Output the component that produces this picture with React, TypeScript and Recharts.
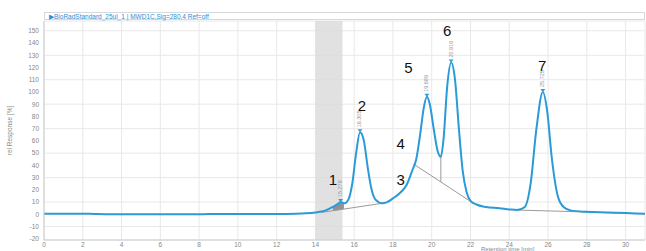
import { ComposedChart, Line, Area, XAxis, YAxis, CartesianGrid, ReferenceArea, ReferenceDot } from 'recharts';

// chromatogram trace (retention time, response)
const times = [0, 2, 2.6, 4, 8, 9, 12, 13, 13.5, 14, 14.5, 14.9, 15.2, 15.3, 15.5, 15.7, 15.9, 16.1, 16.3, 16.5, 16.7, 16.9, 17.1, 17.45, 17.7, 18.0, 18.4, 18.7, 19.0, 19.2, 19.4, 19.6, 19.75, 19.9, 20.1, 20.3, 20.47, 20.6, 20.8, 21.0, 21.2, 21.4, 21.6, 21.8, 22.0, 22.3, 22.8, 23.5, 24.0, 24.4, 24.8, 25.1, 25.4, 25.73, 25.95, 26.2, 26.5, 26.8, 27.2, 28, 29, 30, 31];
const response = [0.5, 0.5, 0.3, 0, 0, 0.3, 0.3, 0.5, 0.8, 1.5, 3, 6, 9, 10, 9, 12, 25, 50, 67, 60, 38, 20, 12, 9, 10, 13, 18, 24, 36, 45, 65, 88, 96, 90, 70, 52, 47, 60, 105, 124, 110, 70, 35, 18, 11, 8, 6, 5, 4, 3.5, 6, 25, 70, 100, 85, 45, 15, 6, 3, 2, 1.5, 1, 0.5];

// integration baselines and drop lines
const baselines = [
  [[14.3, 1.5], [17.45, 9]],
  [[19.07, 41], [22.0, 10.5]],
  [[24.4, 3.5], [31, 0.5]],
  [[15.45, 9.5], [15.45, 4.5]],
  [[20.47, 47], [20.47, 26.5]],
];

// integrated area of peak 1 (time, baseline, curve)
const fillTimes = [14.9, 15.2, 15.3, 15.45];
const fillLow = [2.9, 3.6, 3.9, 4.3];
const fillHigh = [6, 9, 10, 9.3];

// peak apex: time, height, retention label
const peakTimes = [15.3, 16.3, 19.75, 21.0, 25.73];
const peakHeights = [10, 67, 96, 124, 100];
const peakLabels = ['15.278', '16.305', '19.689', '20.916', '25.725'];

// big peak numbers
const numberLabels = ['1', '2', '3', '4', '5', '6', '7'];
const numberX = [14.9, 16.4, 18.4, 18.4, 18.8, 20.8, 25.7];
const numberY = [27, 88, 27, 57, 119, 149, 120];

const xTicks = [0, 2, 4, 6, 8, 10, 12, 14, 16, 18, 20, 22, 24, 26, 28, 30];
const yTicks = [-20, -10, 0, 10, 20, 30, 40, 50, 60, 70, 80, 90, 100, 110, 120, 130, 140, 150];

const trace = times.map((t, i) => ({ t, v: response[i] }));
const peakFill = fillTimes.map((t, i) => ({ t, r: [fillLow[i], fillHigh[i]] }));

const font = 'Liberation Sans, Arial, sans-serif';

const PeakMark = (props: any) => {
  const { cx, cy, label } = props;
  return (
    <g>
      <path d={`M${cx - 2.5},${cy - 3} L${cx + 2.5},${cy - 3} L${cx},${cy}`} fill="#2a9ad8" />
      <text
        x={cx}
        y={cy - 5}
        transform={`rotate(-90 ${cx} ${cy - 5})`}
        fontSize={5.5}
        fill="#999"
        fontFamily={font}
        dominantBaseline="middle"
      >
        {label}
      </text>
    </g>
  );
};

const NumberMark = (props: any) => {
  const { cx, cy, label } = props;
  return (
    <text x={cx} y={cy} fontSize={15} fill="#111" fontFamily={font} textAnchor="middle" dominantBaseline="middle">
      {label}
    </text>
  );
};

export default function App() {
  return (
    <div style={{ position: 'absolute', left: 0, top: 0, width: 646, height: 251, background: '#fff', overflow: 'hidden' }}>
      <div
        style={{
          position: 'absolute',
          left: 44,
          top: 12,
          width: 601,
          height: 8,
          border: '1px solid #d8d8d8',
          fontFamily: font,
          fontSize: 6.5,
          lineHeight: '8px',
          color: '#2a8fd6',
          paddingLeft: 4,
          boxSizing: 'border-box',
          whiteSpace: 'nowrap',
        }}
      >
        ▶BioRadStandard_25ul_1 | MWD1C,Sig=280,4 Ref=off
      </div>
      <ComposedChart width={646} height={251} margin={{ top: 21, right: 1, bottom: 0, left: 0 }}>
        <CartesianGrid stroke="#e8e8e8" strokeWidth={1} />
        <ReferenceArea x1={14} x2={15.4} y1={-21} y2={158} fill="#d9d9d9" fillOpacity={0.8} stroke="none" />
        <XAxis
          type="number"
          dataKey="t"
          domain={[0, 31]}
          ticks={xTicks}
          allowDataOverflow
          height={11}
          tickSize={0}
          tickLine={false}
          axisLine={{ stroke: '#ccc' }}
          tick={{ fontSize: 6.5, fill: '#888', fontFamily: font }}
        />
        <YAxis
          type="number"
          domain={[-21, 158]}
          ticks={yTicks}
          allowDataOverflow
          width={44}
          tickSize={3}
          tickLine={false}
          axisLine={{ stroke: '#ccc' }}
          tick={{ fontSize: 6.5, fill: '#888', fontFamily: font }}
          label={{ value: 'rel Response [%]', angle: -90, position: 'insideLeft', offset: 10, style: { fontSize: 6.5, fill: '#888', fontFamily: font, textAnchor: 'middle' } }}
        />
        <Area data={peakFill} dataKey="r" type="linear" stroke="none" fill="#8a8a8a" fillOpacity={0.9} isAnimationActive={false} />
        {baselines.map((seg, i) => (
          <Line
            key={`b-${i}`}
            data={seg.map(([t, v]) => ({ t, v }))}
            dataKey="v"
            stroke="#9a9a9a"
            strokeWidth={1}
            dot={false}
            isAnimationActive={false}
          />
        ))}
        <Line data={trace} dataKey="v" type="monotone" stroke="#2a9ad8" strokeWidth={2} dot={false} isAnimationActive={false} />
        {peakTimes.map((t, i) => (
          <ReferenceDot key={`p-${i}`} x={t} y={peakHeights[i]} r={0} shape={(p: any) => <PeakMark {...p} label={peakLabels[i]} />} />
        ))}
        {numberLabels.map((n, i) => (
          <ReferenceDot key={`n-${i}`} x={numberX[i]} y={numberY[i]} r={0} shape={(p: any) => <NumberMark {...p} label={n} />} />
        ))}
      </ComposedChart>
      <div style={{ position: 'absolute', left: 481, top: 245.5, fontFamily: font, fontSize: 6, lineHeight: '7px', color: '#888' }}>Retention time [min]</div>
    </div>
  );
}
